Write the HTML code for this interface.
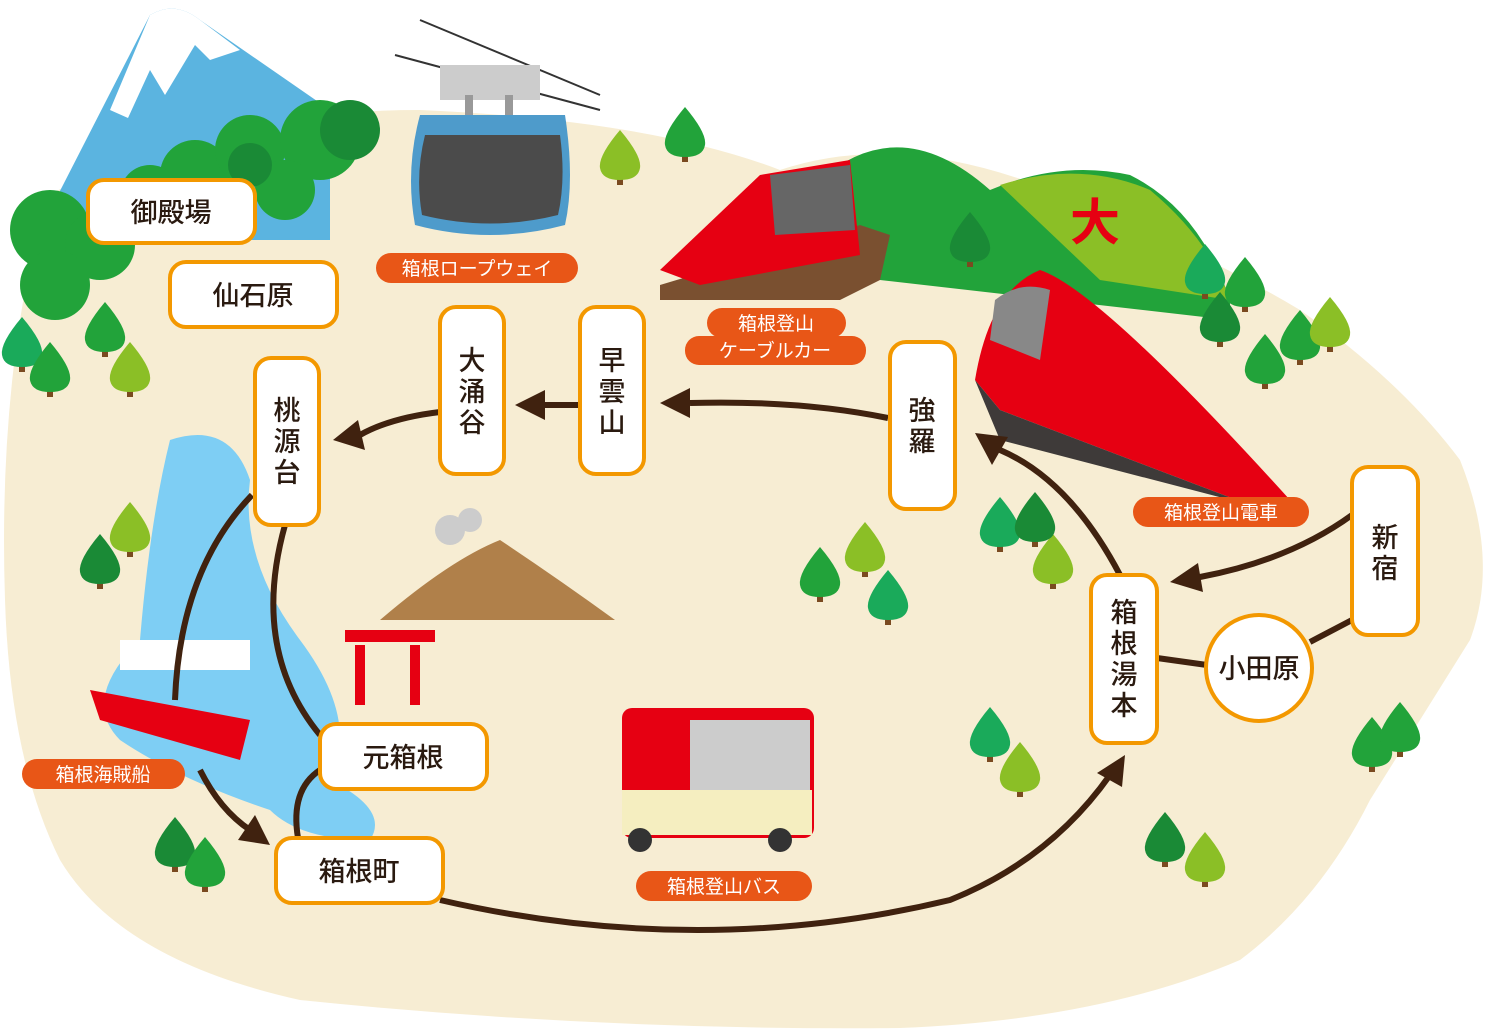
<!DOCTYPE html>
<html><head><meta charset="utf-8"><style>
body{margin:0;background:#fff;width:1490px;height:1031px;overflow:hidden}
svg{display:block}
.l{fill:#fff;stroke:#f39800;stroke-width:4}
.t{font-family:"Liberation Sans","Noto Sans CJK JP",sans-serif;font-size:27px;fill:#2a1a10;font-weight:500}
.o{fill:#e85617}
.ot{font-family:"Liberation Sans","Noto Sans CJK JP",sans-serif;font-size:19px;fill:#fff}
.a{fill:none;stroke:#40220f;stroke-width:6}
.h{fill:#40220f}
</style></head><body>
<svg width="1490" height="1031" viewBox="0 0 1490 1031">
<defs>
<g id="tr"><rect x="-3" y="5" width="6" height="22" fill="#7a4a20"/><path d="M0 -28 Q22 -2 20 10 Q18 22 0 22 Q-18 22 -20 10 Q-22 -2 0 -28 Z"/></g>
</defs>
<!-- land -->
<path d="M40 200 Q200 110 420 110 Q650 120 780 170 Q900 130 1050 190 Q1200 250 1300 310 Q1400 380 1460 460 Q1500 560 1470 640 Q1420 720 1370 800 Q1320 900 1240 960 Q1100 1020 900 1028 Q600 1031 300 1000 Q120 960 60 860 Q10 760 5 600 Q0 450 20 320 Z" fill="#f7edd3"/>
<!-- Fuji -->
<path d="M40 230 L150 15 Q175 0 200 20 L330 110 L330 240 L40 240 Z" fill="#5bb4e0"/>
<path d="M110 110 L150 15 Q175 0 200 20 L240 50 L210 60 L195 45 L165 95 L150 70 L128 118 Z" fill="#fff"/>
<!-- trees top-left -->
<g fill="#22a33a">
<circle cx="50" cy="230" r="40"/><circle cx="100" cy="245" r="35"/><circle cx="55" cy="285" r="35"/><circle cx="195" cy="175" r="35"/><circle cx="250" cy="150" r="35"/><circle cx="320" cy="140" r="40"/><circle cx="285" cy="190" r="30"/><circle cx="150" cy="195" r="30"/>
</g>
<g fill="#1a8a36"><circle cx="350" cy="130" r="30"/><circle cx="250" cy="165" r="22"/></g>
<!-- green hills right -->
<path d="M820 180 Q900 110 990 190 Q1060 160 1130 175 Q1200 210 1230 300 L1230 320 L880 280 Z" fill="#22a33a"/>
<path d="M1000 185 Q1080 160 1150 190 Q1210 240 1230 300 L1100 280 Z" fill="#8bbf26"/>
<text x="1070" y="240" font-size="50" fill="#e60012" font-family="Liberation Sans,Noto Sans CJK JP,sans-serif" font-weight="bold">大</text>
<!-- lake -->
<path d="M170 440 Q230 420 250 480 Q240 560 300 640 Q360 720 330 780 Q390 810 370 840 Q300 840 270 810 Q180 780 120 740 Q80 700 140 640 Q150 520 170 440 Z" fill="#7ecef4"/>
<!-- ropeway gondola -->
<line x1="395" y1="55" x2="600" y2="110" stroke="#333" stroke-width="2"/><line x1="420" y1="20" x2="600" y2="95" stroke="#333" stroke-width="2"/>
<rect x="440" y="65" width="100" height="35" fill="#ccc"/>
<rect x="465" y="95" width="8" height="25" fill="#999"/><rect x="505" y="95" width="8" height="25" fill="#999"/>
<path d="M420 115 L565 115 Q575 180 565 225 Q490 245 415 225 Q405 170 420 115 Z" fill="#4e9bcb"/>
<path d="M425 135 L560 135 Q566 180 558 215 Q490 232 422 215 Q415 175 425 135 Z" fill="#4b4b4b"/>
<!-- cable car -->
<path d="M660 285 L860 225 L890 235 L880 280 L840 300 L660 300 Z" fill="#7a5030"/>
<path d="M660 270 L760 175 L850 160 L860 255 L700 285 Z" fill="#e60012"/>
<path d="M770 175 L850 165 L855 230 L775 235 Z" fill="#666"/>
<!-- train -->
<path d="M975 380 Q990 290 1040 270 Q1100 290 1290 500 L1250 505 L1000 410 Z" fill="#e60012"/>
<path d="M975 380 L1000 410 L1250 505 L1000 440 Z" fill="#3e3a39"/>
<path d="M995 300 Q1020 280 1050 290 L1040 360 L990 340 Z" fill="#888"/>
<!-- bus -->
<rect x="622" y="708" width="192" height="130" rx="10" fill="#e60012"/>
<rect x="690" y="720" width="120" height="95" fill="#ccc"/>
<rect x="622" y="790" width="190" height="45" fill="#f5eec0"/>
<circle cx="640" cy="840" r="12" fill="#333"/><circle cx="780" cy="840" r="12" fill="#333"/>
<!-- volcano -->
<path d="M380 620 Q450 560 500 540 Q560 580 615 620 Z" fill="#b0804a"/>
<circle cx="450" cy="530" r="15" fill="#ccc"/><circle cx="470" cy="520" r="12" fill="#ccc"/>
<!-- torii -->
<rect x="345" y="630" width="90" height="12" fill="#e60012"/><rect x="355" y="645" width="10" height="60" fill="#e60012"/><rect x="410" y="645" width="10" height="60" fill="#e60012"/>
<!-- ship -->
<path d="M90 690 L250 720 L240 760 L100 720 Z" fill="#e60012"/>
<rect x="120" y="640" width="130" height="30" fill="#fff"/>
<!-- small trees -->
<g fill="#22a33a">
<use href="#tr" x="685" y="135"/><use href="#tr" x="620" y="158" fill="#8bbf26"/><use href="#tr" x="130" y="530" fill="#8bbf26"/><use href="#tr" x="100" y="562" fill="#1a8a36"/><use href="#tr" x="22" y="345" fill="#1aaa5a"/><use href="#tr" x="105" y="330"/><use href="#tr" x="130" y="370" fill="#8bbf26"/><use href="#tr" x="50" y="370"/>
<use href="#tr" x="820" y="575"/><use href="#tr" x="865" y="550" fill="#8bbf26"/><use href="#tr" x="888" y="598" fill="#1aaa5a"/><use href="#tr" x="1000" y="525" fill="#1aaa5a"/><use href="#tr" x="1053" y="562" fill="#8bbf26"/><use href="#tr" x="1035" y="520" fill="#1a8a36"/>
<use href="#tr" x="990" y="735" fill="#1aaa5a"/><use href="#tr" x="1020" y="770" fill="#8bbf26"/><use href="#tr" x="1165" y="840" fill="#1a8a36"/><use href="#tr" x="1205" y="860" fill="#8bbf26"/><use href="#tr" x="1372" y="745"/><use href="#tr" x="1400" y="730"/>
<use href="#tr" x="175" y="845" fill="#1a8a36"/><use href="#tr" x="205" y="865"/><use href="#tr" x="1220" y="320" fill="#1a8a36"/><use href="#tr" x="1265" y="362"/><use href="#tr" x="1300" y="338"/><use href="#tr" x="1205" y="272" fill="#1aaa5a"/><use href="#tr" x="970" y="240" fill="#1a8a36"/><use href="#tr" x="1245" y="285"/><use href="#tr" x="1330" y="325" fill="#8bbf26"/>
</g>
<!-- arrows -->
<path class="a" d="M888 418 Q800 400 690 403"/><path class="h" d="M660 403 L690 388 L690 418 Z"/>
<path class="a" d="M578 405 L545 405"/><path class="h" d="M515 405 L545 390 L545 420 Z"/>
<path class="a" d="M440 412 Q390 418 360 435"/><path class="h" d="M333 440 L358 420 L365 450 Z"/>
<path class="a" d="M1120 575 Q1070 480 1000 450"/><path class="h" d="M975 433 L1008 437 L992 465 Z"/>
<path class="a" d="M1352 515 Q1290 560 1200 577"/><path class="h" d="M1170 582 L1198 563 L1203 592 Z"/>
<path class="a" d="M1157 658 L1207 665"/><path class="a" d="M1310 642 L1352 620"/>
<path class="a" d="M440 900 Q700 960 950 900 Q1050 860 1110 775"/><path class="h" d="M1125 755 L1122 787 L1097 773 Z"/>
<path class="a" d="M200 770 Q220 810 250 830"/><path class="h" d="M270 845 L238 840 L255 815 Z"/>
<path class="a" d="M252 495 Q180 570 175 700"/><path class="a" d="M285 525 Q250 650 320 735"/><path class="a" d="M320 770 Q290 790 298 838"/>
<!-- labels -->
<rect class="l" x="88" y="180" width="167" height="63" rx="16"/><text class="t" x="171" y="222" text-anchor="middle">御殿場</text>
<rect class="l" x="170" y="262" width="167" height="65" rx="16"/><text class="t" x="253" y="305" text-anchor="middle">仙石原</text>
<rect class="l" x="255" y="358" width="64" height="167" rx="16"/><text class="t" x="287" y="420" text-anchor="middle">桃</text><text class="t" x="287" y="451" text-anchor="middle">源</text><text class="t" x="287" y="482" text-anchor="middle">台</text>
<rect class="l" x="440" y="307" width="64" height="167" rx="16"/><text class="t" x="472" y="370" text-anchor="middle">大</text><text class="t" x="472" y="401" text-anchor="middle">涌</text><text class="t" x="472" y="432" text-anchor="middle">谷</text>
<rect class="l" x="580" y="307" width="64" height="167" rx="16"/><text class="t" x="612" y="370" text-anchor="middle">早</text><text class="t" x="612" y="401" text-anchor="middle">雲</text><text class="t" x="612" y="432" text-anchor="middle">山</text>
<rect class="l" x="890" y="342" width="65" height="167" rx="16"/><text class="t" x="922" y="420" text-anchor="middle">強</text><text class="t" x="922" y="451" text-anchor="middle">羅</text>
<rect class="l" x="1352" y="467" width="66" height="168" rx="16"/><text class="t" x="1385" y="547" text-anchor="middle">新</text><text class="t" x="1385" y="578" text-anchor="middle">宿</text>
<rect class="l" x="1091" y="575" width="66" height="168" rx="16"/><text class="t" x="1124" y="622" text-anchor="middle">箱</text><text class="t" x="1124" y="653" text-anchor="middle">根</text><text class="t" x="1124" y="684" text-anchor="middle">湯</text><text class="t" x="1124" y="715" text-anchor="middle">本</text>
<circle class="l" cx="1259" cy="668" r="53"/><text class="t" x="1259" y="678" text-anchor="middle">小田原</text>
<rect class="l" x="320" y="724" width="167" height="65" rx="16"/><text class="t" x="403" y="767" text-anchor="middle">元箱根</text>
<rect class="l" x="276" y="838" width="167" height="65" rx="16"/><text class="t" x="359" y="881" text-anchor="middle">箱根町</text>
<!-- tags -->
<rect class="o" x="376" y="253" width="202" height="30" rx="15"/><text class="ot" x="477" y="275" text-anchor="middle">箱根ロープウェイ</text>
<rect class="o" x="707" y="308" width="139" height="30" rx="15"/><text class="ot" x="776" y="330" text-anchor="middle">箱根登山</text>
<rect class="o" x="685" y="336" width="181" height="29" rx="14"/><text class="ot" x="775" y="357" text-anchor="middle">ケーブルカー</text>
<rect class="o" x="1133" y="497" width="176" height="30" rx="15"/><text class="ot" x="1221" y="519" text-anchor="middle">箱根登山電車</text>
<rect class="o" x="22" y="759" width="163" height="30" rx="15"/><text class="ot" x="103" y="781" text-anchor="middle">箱根海賊船</text>
<rect class="o" x="636" y="871" width="176" height="30" rx="15"/><text class="ot" x="724" y="893" text-anchor="middle">箱根登山バス</text>
</svg>
</body></html>
